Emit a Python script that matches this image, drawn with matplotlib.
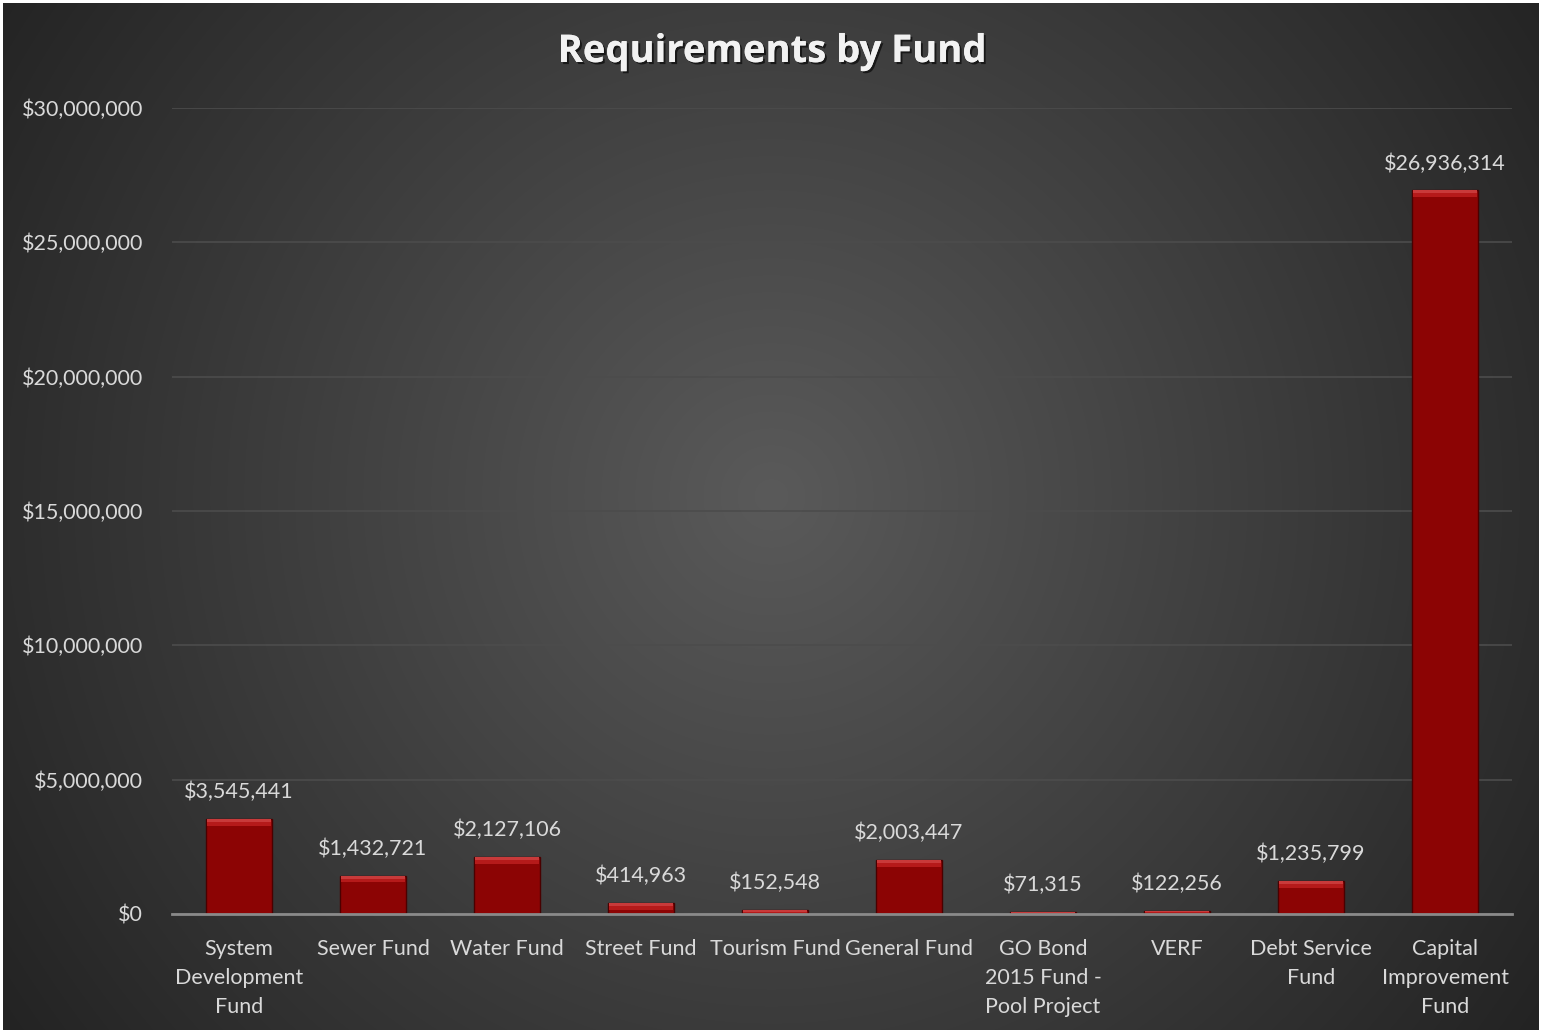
import numpy as np
import matplotlib
matplotlib.use("Agg")
import matplotlib.pyplot as plt
import matplotlib.patheffects as pe
from matplotlib.ticker import FuncFormatter, MultipleLocator

categories = ["System\nDevelopment\nFund", "Sewer Fund", "Water Fund", "Street Fund",
              "Tourism Fund", "General Fund", "GO Bond\n2015 Fund -\nPool Project",
              "VERF", "Debt Service\nFund", "Capital\nImprovement\nFund"]
values = [3545441, 1432721, 2127106, 414963, 152548, 2003447, 71315, 122256, 1235799, 26936314]
title = "Requirements by Fund"

plt.rcParams['font.family'] = ['Lato', 'DejaVu Sans']

W, H = 1545, 1033
fig = plt.figure(figsize=(W / 100, H / 100), dpi=100)
fig.patch.set_facecolor('white')

# background radial gradient
bg = fig.add_axes([0.002, 0.003, 0.994, 0.994], zorder=0)
yy, xx = np.mgrid[0:H, 0:W]
cx, cy = 0.5 * W, 0.48 * H
r = np.sqrt(((xx - cx) / (0.62 * W)) ** 2 + ((yy - cy) / (0.62 * W)) ** 2)
r = np.clip(r, 0, 1)
c0 = np.array([0x5a, 0x5a, 0x5a]) / 255
c1 = np.array([0x22, 0x22, 0x22]) / 255
img = c0[None, None, :] * (1 - r[..., None]) + c1[None, None, :] * r[..., None]
bg.imshow(img, aspect='auto', extent=[0, 1, 0, 1])
bg.set_axis_off()

ax = fig.add_axes([172 / W, 1 - 914 / H, (1512 - 172) / W, (914 - 108) / H], zorder=1)
ax.set_facecolor('none')
x = np.arange(len(categories))
bw = 0.49
bars = ax.bar(x, values, width=bw, color='#8c0404', edgecolor='#4a0000', linewidth=1.0, zorder=3)
# bevel top highlight
bev = [min(v, 260000) for v in values]
ax.bar(x, bev, width=bw * 0.97, bottom=[v - b for v, b in zip(values, bev)],
       color='#b51a1a', edgecolor='none', zorder=4)
ax.bar(x, [b * 0.45 for b in bev], width=bw * 0.97,
       bottom=[v - b * 0.45 for v, b in zip(values, bev)],
       color='#c83a3a', edgecolor='none', zorder=4)

ax.set_xlim(-0.5, len(categories) - 0.5)
ax.set_ylim(0, 30000000)
ax.yaxis.set_major_locator(MultipleLocator(5000000))
ax.yaxis.set_major_formatter(FuncFormatter(lambda v, p: f"${v:,.0f}"))
ax.grid(axis='y', color='#4c4c4c', linewidth=1.2, zorder=0)
ax.set_axisbelow(True)
for s in ['top', 'right', 'left']:
    ax.spines[s].set_visible(False)
ax.spines['bottom'].set_color('#8a8a8a')
ax.spines['bottom'].set_linewidth(2)
ax.spines['bottom'].set_zorder(5)
ax.tick_params(axis='both', length=0, colors='#d9d9d9', labelsize=15.5)
ax.tick_params(axis='y', pad=21)
ax.tick_params(axis='x', pad=18)
ax.set_xticks(x)
ax.set_xticklabels(categories)
for t in ax.get_xticklabels():
    t.set_linespacing(1.55)

for xi, v in zip(x, values):
    ax.annotate(f"${v:,.0f}", (xi, v), xytext=(0, 12), textcoords='offset points',
                ha='center', va='bottom', color='#d9d9d9', fontsize=15.5, zorder=6)

fig.text(0.5, 1 - 52 / H, title, ha='center', va='center', fontsize=27.5, fontweight='bold',
         color='#f2f2f2', family=['Open Sans', 'DejaVu Sans'],
         path_effects=[pe.withSimplePatchShadow(offset=(1.5, -1.5), shadow_rgbFace='black', alpha=0.6),
                       pe.Normal()])

fig.savefig('out.png', dpi=100, facecolor=fig.get_facecolor())
